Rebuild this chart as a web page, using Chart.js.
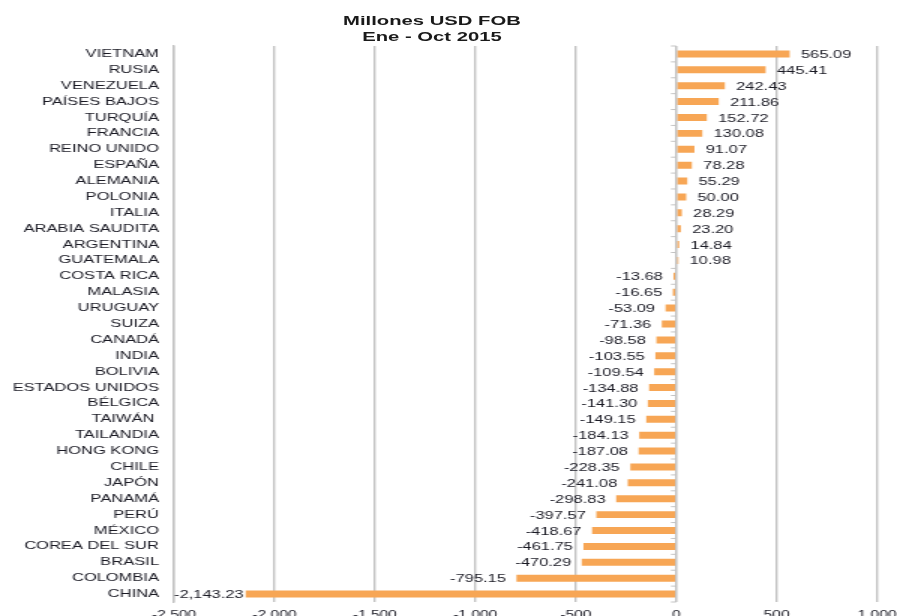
<!DOCTYPE html>
<html>
<head>
<meta charset="utf-8">
<script src="https://cdn.jsdelivr.net/npm/chart.js@4.4.1/dist/chart.umd.min.js"></script>
<style>
  html, body { margin:0; padding:0; background:#fff; overflow:hidden; width:897px; height:616px; }
  #wrap { position:absolute; left:0; top:0; width:598px; height:640px; transform:scaleX(1.5); transform-origin:0 0; }
  #title { position:absolute; left:138px; width:300px; top:13px; text-align:center;
           font:bold 13.5px "Liberation Sans", Arial, sans-serif; line-height:16px; color:#1a1a1a; }
</style>
</head>
<body>
<div id="wrap">
  <canvas id="c"></canvas>
  <div id="title">Millones USD FOB<br>Ene - Oct 2015</div>
</div>
<script>
const categories = ["VIETNAM","RUSIA","VENEZUELA","PAÍSES BAJOS","TURQUÍA","FRANCIA","REINO UNIDO","ESPAÑA","ALEMANIA","POLONIA","ITALIA","ARABIA SAUDITA","ARGENTINA","GUATEMALA","COSTA RICA","MALASIA","URUGUAY","SUIZA","CANADÁ","INDIA","BOLIVIA","ESTADOS UNIDOS","BÉLGICA","TAIWÁN ","TAILANDIA","HONG KONG","CHILE","JAPÓN","PANAMÁ","PERÚ","MÉXICO","COREA DEL SUR","BRASIL","COLOMBIA","CHINA"];
const values = [565.09,445.41,242.43,211.86,152.72,130.08,91.07,78.28,55.29,50.00,28.29,23.20,14.84,10.98,-13.68,-16.65,-53.09,-71.36,-98.58,-103.55,-109.54,-134.88,-141.30,-149.15,-184.13,-187.08,-228.35,-241.08,-298.83,-397.57,-418.67,-461.75,-470.29,-795.15,-2143.23];
const xMin = -2500, xMax = 1000, xStep = 500;

const GRID = '#c3c3c3';
const TEXT = '#1a1a24';
const fmt2 = v => v.toLocaleString('en-US', {minimumFractionDigits:2, maximumFractionDigits:2});

const zeroTicks = {
  id:'zeroTicks',
  afterDatasetsDraw(chart){
    const {ctx} = chart; const xs = chart.scales.x, ys = chart.scales.y;
    const x0 = xs.getPixelForValue(0);
    const step = ys.getPixelForValue(1) - ys.getPixelForValue(0);
    ctx.save(); ctx.strokeStyle = GRID; ctx.lineWidth = 1;
    ctx.beginPath();
    ctx.moveTo(x0, ys.top); ctx.lineTo(x0, ys.bottom);
    for (let i = 0; i <= categories.length; i++) {
      const y = ys.getPixelForValue(i) - step/2;
      ctx.moveTo(x0 - 3.5, y); ctx.lineTo(x0, y);
    }
    ctx.stroke(); ctx.restore();
  }
};

const valueLabels = {
  id:'valueLabels',
  afterDatasetsDraw(chart){
    const {ctx, chartArea} = chart;
    const meta = chart.getDatasetMeta(0);
    ctx.save();
    ctx.font = '11px "Liberation Sans", Arial, sans-serif';
    ctx.fillStyle = TEXT; ctx.textBaseline = 'middle';
    meta.data.forEach((bar, i) => {
      const v = values[i]; const t = fmt2(v);
      if (v >= 0) { ctx.textAlign = 'left'; ctx.fillText(t, bar.x + 7.5, bar.y + 1); }
      else {
        const w = ctx.measureText(t).width;
        let x = bar.x - 7;
        if (x - w < chartArea.left) { ctx.textAlign = 'left'; ctx.fillText(t, chartArea.left, bar.y + 1); }
        else { ctx.textAlign = 'right'; ctx.fillText(t, x, bar.y + 1); }
      }
    });
    ctx.restore();
  }
};

new Chart(document.getElementById('c'), {
  type:'bar',
  data:{ labels:categories, datasets:[{ data:values, backgroundColor:'#F7A655', borderWidth:0, barPercentage:0.44, categoryPercentage:1 }] },
  options:{
    indexAxis:'y', responsive:true, maintainAspectRatio:false, animation:false,
    layout:{ padding:{ top:46, left:6, right:13.3, bottom:17 } },
    plugins:{ legend:{display:false}, title:{display:false}, tooltip:{enabled:false} },
    scales:{
      x:{ min:xMin, max:xMax,
          ticks:{ stepSize:xStep, padding:0, color:TEXT, font:{family:'"Liberation Sans", Arial, sans-serif', size:10.4},
                  callback:v => Number(v).toLocaleString('en-US') },
          grid:{ color:GRID, lineWidth:1.4, tickLength:7, drawTicks:true, tickColor:'rgba(0,0,0,0)' },
          border:{ display:false },
          afterFit: s => { s.height = 21; } },
      y:{ ticks:{ autoSkip:false, padding:10, color:TEXT, font:{family:'"Liberation Sans", Arial, sans-serif', size:11} },
          grid:{ display:false, drawTicks:false },
          border:{ display:true, color:GRID, width:1.4 },
          afterFit: s => { s.width = 110; } }
    }
  },
  plugins:[zeroTicks, valueLabels]
});
</script>
</body>
</html>
